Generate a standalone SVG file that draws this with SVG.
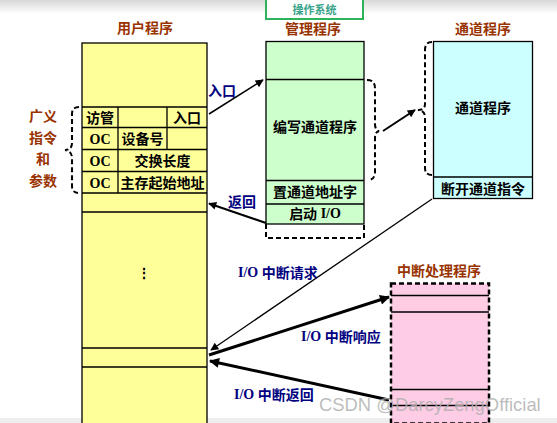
<svg xmlns="http://www.w3.org/2000/svg" width="557" height="423" viewBox="0 0 557 423">
<defs>
<linearGradient id="topShade" x1="0" y1="0" x2="0" y2="1">
<stop offset="0" stop-color="#d8d8d8"/>
<stop offset="1" stop-color="#ffffff"/>
</linearGradient>
<marker id="ah" viewBox="0 0 10 10" refX="9" refY="5" markerWidth="10" markerHeight="8" markerUnits="userSpaceOnUse" orient="auto">
<path d="M0,0 L10,5 L0,10 z" fill="#000"/>
</marker>
<marker id="ahb" viewBox="0 0 10 10" refX="9" refY="5" markerWidth="13" markerHeight="10" markerUnits="userSpaceOnUse" orient="auto">
<path d="M0,0 L10,5 L0,10 z" fill="#000"/>
</marker>
</defs>
<style>
.box{stroke:#000;stroke-width:1.3}
.ln{stroke:#000;stroke-width:1.3;fill:none}
.dash{stroke:#000;stroke-width:2;fill:none;stroke-dasharray:5 3}
.t{font-family:"Liberation Serif","Noto Sans CJK SC",serif;font-weight:bold;font-size:14px;text-anchor:middle;dominant-baseline:central;fill:#000}
.title{font-family:"Noto Sans CJK SC",sans-serif;font-weight:bold;font-size:14px;text-anchor:middle;dominant-baseline:central;fill:#993300}
.lbl{font-family:"Liberation Serif","Noto Sans CJK SC",serif;font-weight:bold;font-size:14px;dominant-baseline:central;fill:#000080}
.cn{font-family:"Noto Sans CJK SC",sans-serif}
</style>
<rect x="0" y="0" width="557" height="14" fill="url(#topShade)"/>
<rect x="0" y="418" width="557" height="5" fill="#eeeeee"/>

<g id="os-label">
<rect x="266" y="-2" width="97" height="21" fill="#fff" stroke="#2db35c" stroke-width="2"/>
<text x="314.5" y="8.5" style="font-family:'Noto Sans CJK SC',sans-serif;font-size:11px;font-weight:bold;text-anchor:middle;dominant-baseline:central;fill:#3aa38a">操作系统</text>
</g>

<g id="user-program">
<text class="title" x="145" y="27">用户程序</text>
<rect class="box" x="82" y="43" width="125" height="385" fill="#ffff99"/>
<path class="ln" d="M82,107 H207 M82,127.5 H207 M82,149.5 H207 M82,171.5 H207 M82,193 H207 M82,212 H207 M82,348 H207 M82,367 H207 M118,107 V193 M167,107 V149.5"/>
<text class="t cn" x="100" y="117">访管</text>
<text class="t cn" x="187" y="117">入口</text>
<text class="t" x="100" y="139">OC</text>
<text class="t cn" x="142.5" y="138">设备号</text>
<text class="t" x="100" y="161">OC</text>
<text class="t cn" x="162.5" y="160">交换长度</text>
<text class="t" x="100" y="183">OC</text>
<text class="t cn" x="162.5" y="182">主存起始地址</text>
<text class="t" x="144" y="273">⋮</text>
</g>

<g id="generalized-instruction">
<path class="dash" d="M79,107 Q72,107 72,114 L72,143 Q72,150 65,150 Q72,151 72,158 L72,186 Q72,193 79,193"/>
<text class="title" x="43" y="115">广义</text>
<text class="title" x="43" y="137">指令</text>
<text class="title" x="43" y="158">和</text>
<text class="title" x="43" y="180">参数</text>
</g>

<g id="supervisor">
<text class="title" x="313" y="28">管理程序</text>
<rect class="box" x="266" y="41.5" width="98" height="182.5" fill="#ccffcc"/>
<path class="ln" d="M266,79.5 H364 M266,180.5 H364 M266,204 H364"/>
<text class="t cn" x="315" y="126">编写通道程序</text>
<text class="t cn" x="315" y="191">置通道地址字</text>
<text class="t" x="315" y="213"><tspan class="cn">启动</tspan> I/O</text>
<path class="dash" d="M266,224 V238 H364 V224"/>
<path class="dash" d="M367,80 Q375,80 375,88 L375,124 Q375,130 379,131 Q375,132 375,138 L375,172 Q375,179 369,180"/>
</g>

<g id="channel-program">
<text class="title" x="483" y="28">通道程序</text>
<rect class="box" x="433.5" y="41.5" width="99" height="157" fill="#ccffff"/>
<path class="ln" d="M433.5,177 H532.5"/>
<text class="t cn" x="483" y="107">通道程序</text>
<text class="t cn" x="483" y="188">断开通道指令</text>
<path class="dash" d="M432,42 Q425,42 425,50 L425,104 Q425,110 418,110 Q425,111 425,117 L425,168 Q425,175 432,175"/>
</g>

<g id="interrupt-handler">
<text class="title" x="439" y="270">中断处理程序</text>
<rect x="391" y="283.5" width="98" height="140" fill="#ffcce6" stroke="#000" stroke-width="2.5" stroke-dasharray="5 3"/>
<path class="ln" d="M391,295.5 H489 M391,312 H489 M391,389.5 H489 M391,405.5 H489"/>
</g>

<g id="connectors">
<path d="M209,114 L263,80" stroke="#000" stroke-width="1.5" fill="none" marker-end="url(#ah)"/>
<path d="M266,223 L209,203.5" stroke="#000" stroke-width="2" fill="none" marker-end="url(#ah)"/>
<path d="M383,131 L415,110" stroke="#000" stroke-width="2" fill="none" marker-end="url(#ah)"/>
<path d="M432,199 L211,350" stroke="#000" stroke-width="1.3" fill="none" marker-end="url(#ah)"/>
<path d="M209,355 L389,297" stroke="#000" stroke-width="3" fill="none" marker-end="url(#ahb)"/>
<path d="M389,400 L210,361" stroke="#000" stroke-width="3" fill="none" marker-end="url(#ahb)"/>
<text class="lbl cn" x="208" y="90">入口</text>
<text class="lbl cn" x="228" y="201">返回</text>
<text class="lbl" x="238" y="272">I/O <tspan class="cn">中断请求</tspan></text>
<text class="lbl" x="301" y="336">I/O <tspan class="cn">中断响应</tspan></text>
<text class="lbl" x="234" y="394">I/O <tspan class="cn">中断返回</tspan></text>
</g>

<text x="319" y="404" style="font-family:'Liberation Sans',sans-serif;font-size:18.4px;dominant-baseline:central;fill:#b0b0b0;fill-opacity:0.85">CSDN @DarcyZengOfficial</text>
</svg>
